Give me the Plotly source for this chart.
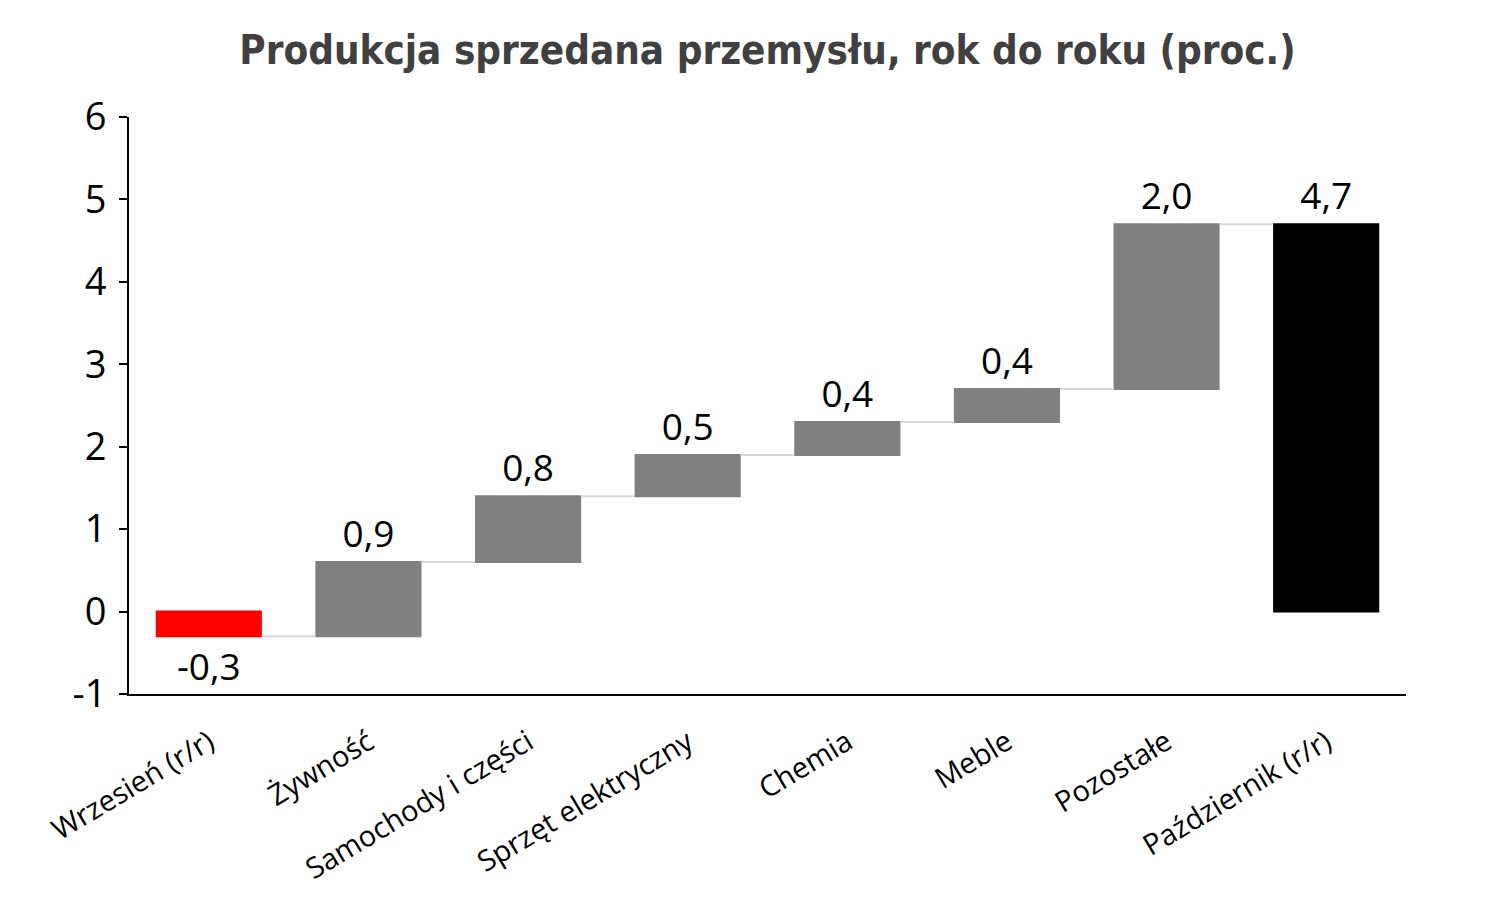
import plotly.graph_objects as go

categories = ["Wrzesień (r/r)", "Żywność", "Samochody i części", "Sprzęt elektryczny",
              "Chemia", "Meble", "Pozostałe", "Październik (r/r)"]
values = [-0.3, 0.9, 0.8, 0.5, 0.4, 0.4, 2.0, 4.7]
measures = ["relative"] * 7 + ["total"]
labels = [f"{v:.1f}".replace(".", ",") for v in values]
y_ticks = [-1, 0, 1, 2, 3, 4, 5, 6]
y_ticktext = ["-1", "0", "1", "2", "3", "4", "5", "6"]

fig = go.Figure(go.Waterfall(
    x=categories,
    y=values,
    measure=measures,
    text=labels,
    textinfo="text",
    textposition="outside",
    textfont=dict(family="Open Sans", size=37, color="black"),
    cliponaxis=False,
    increasing=dict(marker=dict(color="#808080")),
    decreasing=dict(marker=dict(color="#ff0000")),
    totals=dict(marker=dict(color="#000000")),
    connector=dict(mode="between", line=dict(color="#d9d9d9", width=2)),
    hoverinfo="skip",
))

fig.update_layout(
    width=1496, height=900,
    paper_bgcolor="white", plot_bgcolor="white",
    margin=dict(l=121, r=98, t=109, b=214),
    waterfallgap=0.335,
    showlegend=False,
    title=dict(
        text="<b>Produkcja sprzedana przemysłu, rok do roku (proc.)</b>",
        x=0.5, xref="paper", xanchor="center",
        y=0.953, yanchor="middle",
        font=dict(family="DejaVu Sans Condensed, Liberation Sans", size=40, color="#404040"),
    ),
    xaxis=dict(
        showline=True, linecolor="black", linewidth=2,
        ticks="", showgrid=False, tickangle=-31,
        ticklabelstandoff=18,
        tickfont=dict(family="Open Sans", size=29, color="black"),
    ),
    yaxis=dict(
        range=[-1, 6], tickmode="array", tickvals=y_ticks, ticktext=y_ticktext,
        showline=True, linecolor="black", linewidth=2,
        ticks="outside", ticklen=8, tickcolor="black", tickwidth=2,
        ticklabelstandoff=5,
        showgrid=False, zeroline=False,
        tickfont=dict(family="Open Sans", size=38, color="black"),
    ),
)

fig.write_html("out.html")
